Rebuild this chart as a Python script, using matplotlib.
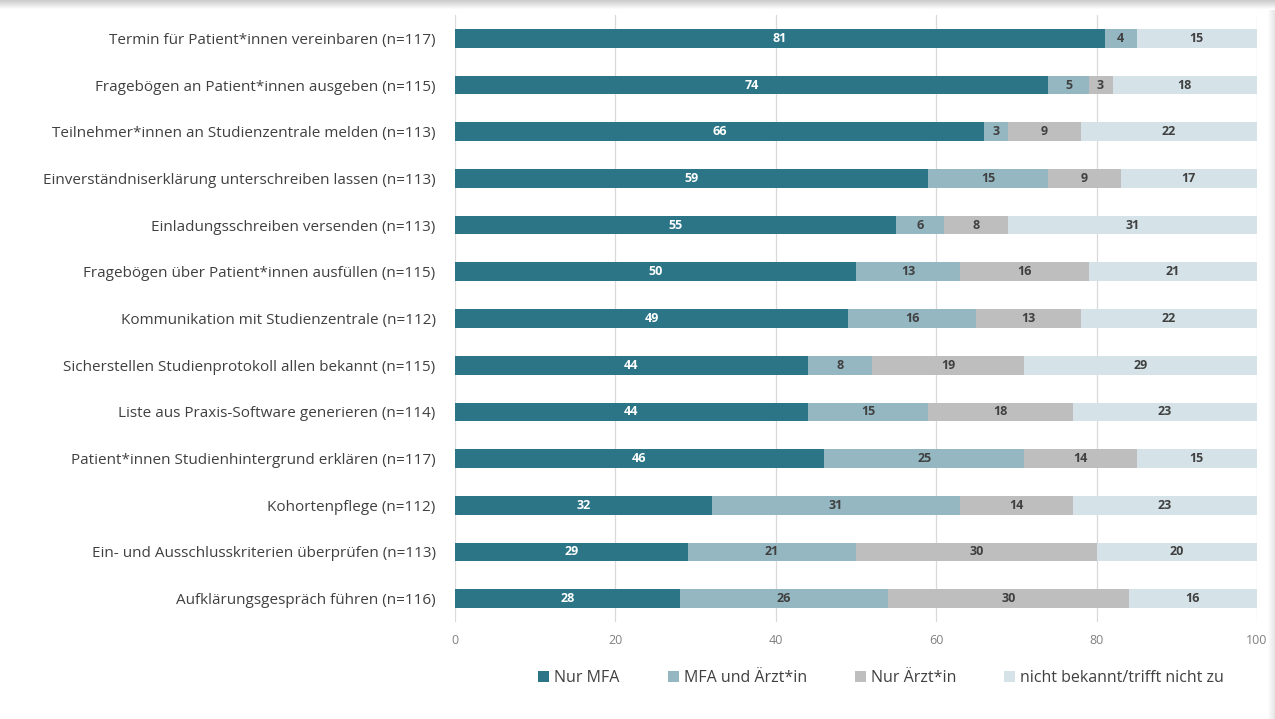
import matplotlib.pyplot as plt
import numpy as np

plt.rcParams['font.family'] = ['Open Sans', 'DejaVu Sans']

tasks = [
    "Termin für Patient*innen vereinbaren (n=117)",
    "Fragebögen an Patient*innen ausgeben (n=115)",
    "Teilnehmer*innen an Studienzentrale melden (n=113)",
    "Einverständniserklärung unterschreiben lassen (n=113)",
    "Einladungsschreiben versenden (n=113)",
    "Fragebögen über Patient*innen ausfüllen (n=115)",
    "Kommunikation mit Studienzentrale (n=112)",
    "Sicherstellen Studienprotokoll allen bekannt (n=115)",
    "Liste aus Praxis-Software generieren (n=114)",
    "Patient*innen Studienhintergrund erklären (n=117)",
    "Kohortenpflege (n=112)",
    "Ein- und Ausschlusskriterien überprüfen (n=113)",
    "Aufklärungsgespräch führen (n=116)",
]
nur_mfa = [81, 74, 66, 59, 55, 50, 49, 44, 44, 46, 32, 29, 28]
mfa_arzt = [4, 5, 3, 15, 6, 13, 16, 8, 15, 25, 31, 21, 26]
nur_arzt = [0, 3, 9, 9, 8, 16, 13, 19, 18, 14, 14, 30, 30]
nicht_bekannt = [15, 18, 22, 17, 31, 21, 22, 29, 23, 15, 23, 20, 16]

series_names = ["Nur MFA", "MFA und Ärzt*in", "Nur Ärzt*in", "nicht bekannt/trifft nicht zu"]
colors = ["#2b7586", "#94b7c2", "#bebebe", "#d5e3e8"]
text_colors = ["white", "#404040", "#404040", "#404040"]

fig = plt.figure(figsize=(12.75, 7.19), dpi=100)

# light card shadow along the top and right edge
shade = fig.add_axes([0, 1 - 10 / 719, 1, 10 / 719])
shade.imshow(np.linspace(0.8, 1.0, 10)[:, None], cmap="gray", vmin=0, vmax=1,
             aspect="auto", extent=(0, 1, 0, 1))
shade.axis("off")
shade_r = fig.add_axes([1 - 8 / 1275, 0, 8 / 1275, 1 - 10 / 719])
shade_r.imshow(np.linspace(1.0, 0.9, 8)[None, :], cmap="gray", vmin=0, vmax=1,
               aspect="auto", extent=(0, 1, 0, 1))
shade_r.axis("off")

ax = fig.add_axes([455 / 1275, 1 - 622 / 719, 802 / 1275, 607 / 719])

y = np.arange(len(tasks))[::-1]
left = np.zeros(len(tasks))
for vals, name, col, tcol in zip([nur_mfa, mfa_arzt, nur_arzt, nicht_bekannt],
                                 series_names, colors, text_colors):
    vals = np.array(vals, dtype=float)
    ax.barh(y, vals, left=left, height=0.4, color=col, label=name, zorder=2)
    for yi, l, v in zip(y, left, vals):
        if v > 0:
            ax.text(l + v / 2, yi, f"{int(v)}", ha="center", va="center",
                    fontsize=9, fontweight="bold", color=tcol, zorder=3)
    left += vals

ax.set_xlim(0, 100)
ax.set_ylim(-0.5, 12.5)
ax.set_xticks(np.arange(0, 101, 20))
ax.set_yticks(y)
ax.set_yticklabels(tasks, fontsize=11, color="#404040")
ax.tick_params(axis="x", colors="#808080", labelsize=9, length=0, pad=9)
ax.tick_params(axis="y", length=0, pad=14)
ax.grid(axis="x", color="#d9d9d9", linewidth=0.9, zorder=0)
for s in ax.spines.values():
    s.set_visible(False)

leg = fig.legend(loc="center", bbox_to_anchor=(881 / 1275, 1 - 678 / 719), ncol=4,
                 frameon=False, fontsize=11.5, handlelength=0.7, handleheight=0.7,
                 handletextpad=0.3, columnspacing=3.0)
for t in leg.get_texts():
    t.set_color("#404040")

fig.savefig("out.png", dpi=100, facecolor="white")
